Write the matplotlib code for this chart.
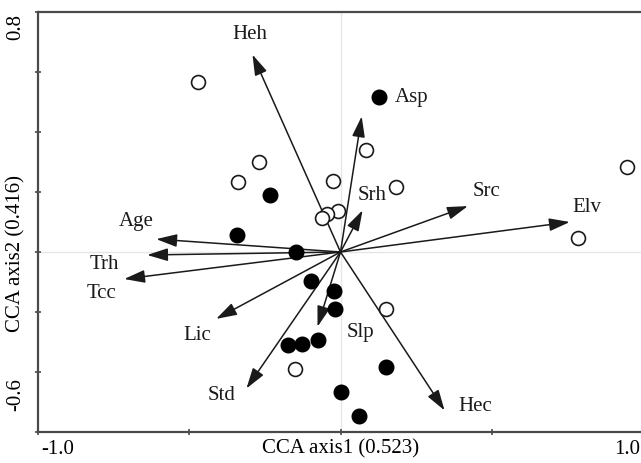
import numpy as np
import matplotlib
matplotlib.use('Agg')
import matplotlib.pyplot as plt

## Data
# environmental variables (arrow tips)
env_names = ['Heh', 'Asp', 'Srh', 'Src', 'Elv', 'Age', 'Trh', 'Tcc', 'Lic', 'Std', 'Slp', 'Hec']
env_x = [-0.291, 0.070, 0.073, 0.421, 0.758, -0.609, -0.639, -0.715, -0.411, -0.311, -0.076, 0.344]
env_y = [0.658, 0.452, 0.139, 0.153, 0.100, 0.043, -0.010, -0.090, -0.223, -0.455, -0.249, -0.528]
# label positions
lab_x = [-0.301, 0.235, 0.103, 0.483, 0.815, -0.675, -0.781, -0.791, -0.474, -0.394, 0.066, 0.444]
lab_y = [0.724, 0.515, 0.189, 0.203, 0.150, 0.103, -0.043, -0.140, -0.279, -0.478, -0.269, -0.515]

# sample plots, open circles
open_x = [-0.470, -0.268, -0.338, -0.026, 0.083, 0.185, -0.007, -0.043, -0.060, 0.947, 0.785, 0.149, -0.152]
open_y = [0.568, 0.299, 0.233, 0.236, 0.339, 0.216, 0.136, 0.126, 0.113, 0.282, 0.047, -0.189, -0.389]
# sample plots, filled circles
fill_x = [0.126, -0.232, -0.341, -0.146, -0.096, -0.023, -0.017, -0.073, -0.126, -0.175, 0.152, 0.003, 0.060]
fill_y = [0.518, 0.189, 0.056, 0.000, -0.096, -0.130, -0.189, -0.292, -0.306, -0.309, -0.382, -0.468, -0.548]

W, H = 641, 463
plt.rcParams['font.family'] = 'Liberation Serif'
FS = 15

fig = plt.figure(figsize=(W/100, H/100), dpi=100)
ax = fig.add_axes([38/W, 1 - 432/H, (643-38)/W, (432-12)/H])

ax.set_xlim(-1.0, 1.0)
ax.set_ylim(-0.6, 0.8)

# faint zero lines
ax.axhline(0, color='#e6e6e6', lw=1, zorder=0)
ax.axvline(0, color='#e6e6e6', lw=1, zorder=0)

# arrows
for i in range(len(env_names)):
    ax.annotate('', xy=(env_x[i], env_y[i]), xytext=(0, 0),
                arrowprops=dict(arrowstyle='-|>,head_length=0.9,head_width=0.28',
                                color='#1a1a1a', lw=1.1, shrinkA=0, shrinkB=0,
                                mutation_scale=14))
    ax.text(lab_x[i], lab_y[i], env_names[i], fontsize=FS, ha='center', va='center',
            color='#1a1a1a')

ax.plot(open_x, open_y, 'o', ms=10, mfc='white', mec='#1a1a1a', mew=1.2, zorder=5)
ax.plot(fill_x, fill_y, 'o', ms=10.5, mfc='black', mec='black', zorder=5)

for s in ax.spines.values():
    s.set_color('#4a4a4a')
    s.set_linewidth(1.6)

ax.set_xticks([-1.0, -0.5, 0, 0.5, 1.0])
ax.set_yticks([-0.6, -0.4, -0.2, 0, 0.2, 0.4, 0.6, 0.8])
ax.set_xticklabels([])
ax.set_yticklabels([])
ax.tick_params(direction='inout', length=5, width=1.2, color='#4a4a4a')

# tick labels and axis titles
fig.text(58/W, 1 - 450/H, '-1.0', fontsize=FS, ha='center', va='center')
fig.text(627/W, 1 - 450/H, '1.0', fontsize=FS, ha='center', va='center')
fig.text(341/W, 1 - 449/H, 'CCA axis1 (0.523)', fontsize=FS, ha='center', va='center')
fig.text(16/W, 1 - 27/H, '0.8', fontsize=FS, ha='center', va='center', rotation=90)
fig.text(16/W, 1 - 395/H, '-0.6', fontsize=FS, ha='center', va='center', rotation=90)
fig.text(16/W, 1 - 254/H, 'CCA axis2 (0.416)', fontsize=FS, ha='center', va='center', rotation=90)

fig.savefig('out.png', dpi=100)
